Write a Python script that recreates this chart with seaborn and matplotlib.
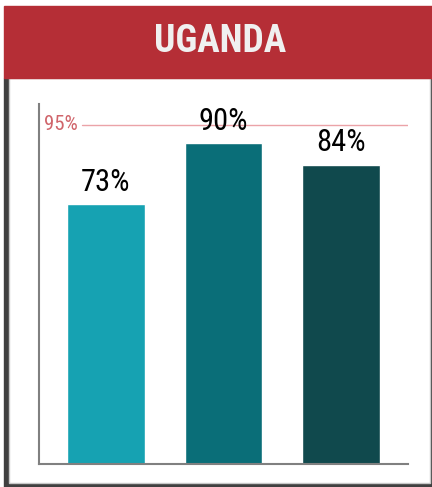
import pandas as pd
import matplotlib.pyplot as plt
import seaborn as sns
from matplotlib.patches import Rectangle

# chart data
country = "UGANDA"
groups = ["A", "B", "C"]
values = [73, 90, 84]
target = 95
bar_colors = ["#16A2B2", "#0A6E78", "#10494D"]

df = pd.DataFrame({"group": groups, "value": values})

sns.set_theme(style="white")
plt.rcParams['font.family'] = ['Liberation Sans Narrow', 'Roboto Condensed', 'DejaVu Sans']

W, H = 432, 487
fig = plt.figure(figsize=(W / 100, H / 100), dpi=100)

def fx(px):
    return px / W

def fy(py):
    return 1 - py / H

# frame: dark shadow border, white panel, red header
fig.patches.append(Rectangle((fx(4), fy(487)), fx(428), fy(78) - fy(487),
                             transform=fig.transFigure, color="#404040", zorder=0))
fig.patches.append(Rectangle((fx(9), fy(483)), fx(421), fy(78) - fy(483),
                             transform=fig.transFigure, facecolor="white", edgecolor="#C8C8C8",
                             linewidth=1, zorder=1))
fig.patches.append(Rectangle((fx(4), fy(78)), fx(428), fy(6) - fy(78),
                             transform=fig.transFigure, color="#B52E36", zorder=2))
fig.text(fx(220), fy(42), country, color="#F0F0F0", fontsize=27, fontweight="bold",
         ha="center", va="center", zorder=3)

ax = fig.add_axes([fx(39), fy(464), fx(408) - fx(39), fy(104) - fy(464)])
ax.set_zorder(5)
ax.set_facecolor("none")
sns.barplot(data=df, x="group", y="value", hue="group", palette=bar_colors,
            saturation=1, width=0.66, legend=False, ax=ax, zorder=2)
ax.set_xlim(-0.57, 2.57)
ax.set_ylim(0, 101)

ax.axhline(target, xmin=(82 - 39) / (408 - 39), xmax=1, color="#EBA3A8", linewidth=1, zorder=1)
ax.text(-0.53, target + 0.3, f"{target}%", color="#D0656B", fontsize=15, va="center", ha="left")

for i, v in enumerate(values):
    ax.text(i, v + 2, f"{v}%", ha="center", va="bottom", fontsize=22, color="black", zorder=3)

ax.set_xticks([])
ax.set_yticks([])
ax.set_xlabel("")
ax.set_ylabel("")
for s in ["top", "right"]:
    ax.spines[s].set_visible(False)
for s in ["left", "bottom"]:
    ax.spines[s].set_color("#808080")
    ax.spines[s].set_linewidth(1.5)

fig.savefig("out.png", dpi=100)
